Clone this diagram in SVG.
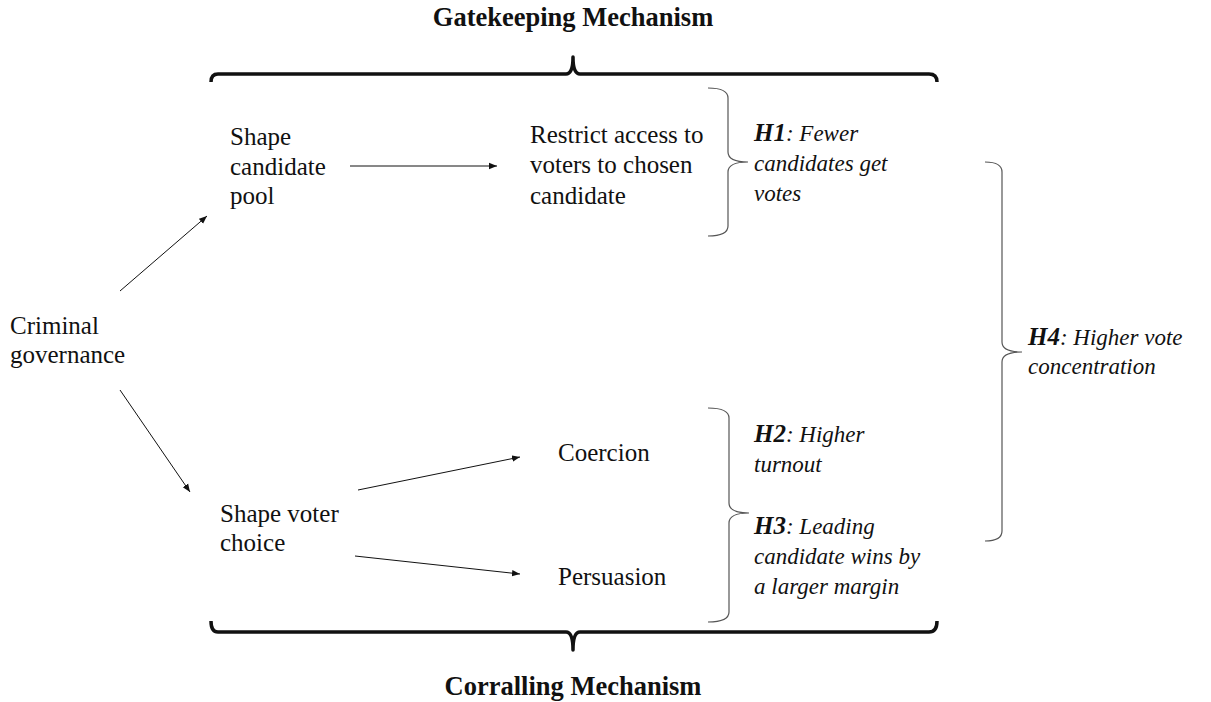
<svg xmlns="http://www.w3.org/2000/svg" width="1211" height="702" viewBox="0 0 1211 702">
<style>
text{font-family:"Liberation Serif","Times New Roman",serif;font-size:25px;fill:#111}
.title{font-weight:bold;font-size:26.5px;text-anchor:middle}
.it{font-style:italic;font-size:23px}
.b{font-weight:bold;font-size:25px}
.big{fill:none;stroke:#111;stroke-width:3.5;stroke-linejoin:round}
.small{fill:none;stroke:#555;stroke-width:1.2}
.conn line{stroke:#111;stroke-width:1}
</style>
<defs>
<marker id="ah" viewBox="0 0 10 10" refX="10" refY="5" markerWidth="8" markerHeight="8" markerUnits="userSpaceOnUse" orient="auto">
<path d="M0,1 L10,5 L0,9 Z" fill="#111"/>
</marker>
</defs>
<rect width="1211" height="702" fill="#fff"/>
<g id="gatekeeping">
<text class="title" x="573" y="26">Gatekeeping Mechanism</text>
<path class="big" d="M211,82 Q211,74 218,74 L566,74 Q573,74 573,57 Q573,74 580,74 L929,74 Q937,74 937,82"/>
</g>
<g id="corralling">
<path class="big" d="M211,621 Q211,632 218,632 L566,632 Q573,632 573,650 Q573,632 580,632 L929,632 Q937,632 937,621"/>
<text class="title" x="573" y="695">Corralling Mechanism</text>
</g>
<g id="criminal">
<text x="10" y="334">Criminal</text>
<text x="10" y="363">governance</text>
</g>
<g id="shape-candidate">
<text x="230" y="145">Shape</text>
<text x="230" y="175">candidate</text>
<text x="230" y="204">pool</text>
</g>
<g id="restrict">
<text x="530" y="143">Restrict access to</text>
<text x="530" y="173">voters to chosen</text>
<text x="530" y="204">candidate</text>
</g>
<g id="shape-voter">
<text x="220" y="522">Shape voter</text>
<text x="220" y="551">choice</text>
</g>
<g id="coercion">
<text x="558" y="461">Coercion</text>
</g>
<g id="persuasion">
<text x="558" y="585">Persuasion</text>
</g>
<g id="h1">
<path class="small" d="M708,88 Q728,88 728,98 L728,152 Q728,162 748,162 Q728,162 728,172 L728,226 Q728,236 708,236"/>
<text class="it" x="754" y="141"><tspan class="b">H1</tspan>: Fewer</text>
<text class="it" x="754" y="171">candidates get</text>
<text class="it" x="754" y="201">votes</text>
</g>
<g id="h2h3">
<path class="small" d="M708,408 Q729,408 729,418 L729,503 Q729,513 749,513 Q729,513 729,523 L729,612 Q729,622 708,622"/>
<text class="it" x="754" y="442"><tspan class="b">H2</tspan>: Higher</text>
<text class="it" x="754" y="472">turnout</text>
<text class="it" x="754" y="534"><tspan class="b">H3</tspan>: Leading</text>
<text class="it" x="754" y="564">candidate wins by</text>
<text class="it" x="754" y="594">a larger margin</text>
</g>
<g id="h4">
<path class="small" d="M985,162 Q1002,162 1002,172 L1002,342 Q1002,352 1022,352 Q1002,352 1002,362 L1002,531 Q1002,541 985,541"/>
<text class="it" x="1028" y="345"><tspan class="b">H4</tspan>: Higher vote</text>
<text class="it" x="1028" y="374">concentration</text>
</g>
<g class="conn" id="connectors">
<line x1="120" y1="291" x2="207" y2="216" marker-end="url(#ah)"/>
<line x1="350" y1="166" x2="497" y2="166" marker-end="url(#ah)"/>
<line x1="120" y1="390" x2="190" y2="492" marker-end="url(#ah)"/>
<line x1="358" y1="490" x2="520" y2="457" marker-end="url(#ah)"/>
<line x1="355" y1="556" x2="520" y2="574" marker-end="url(#ah)"/>
</g>
</svg>
